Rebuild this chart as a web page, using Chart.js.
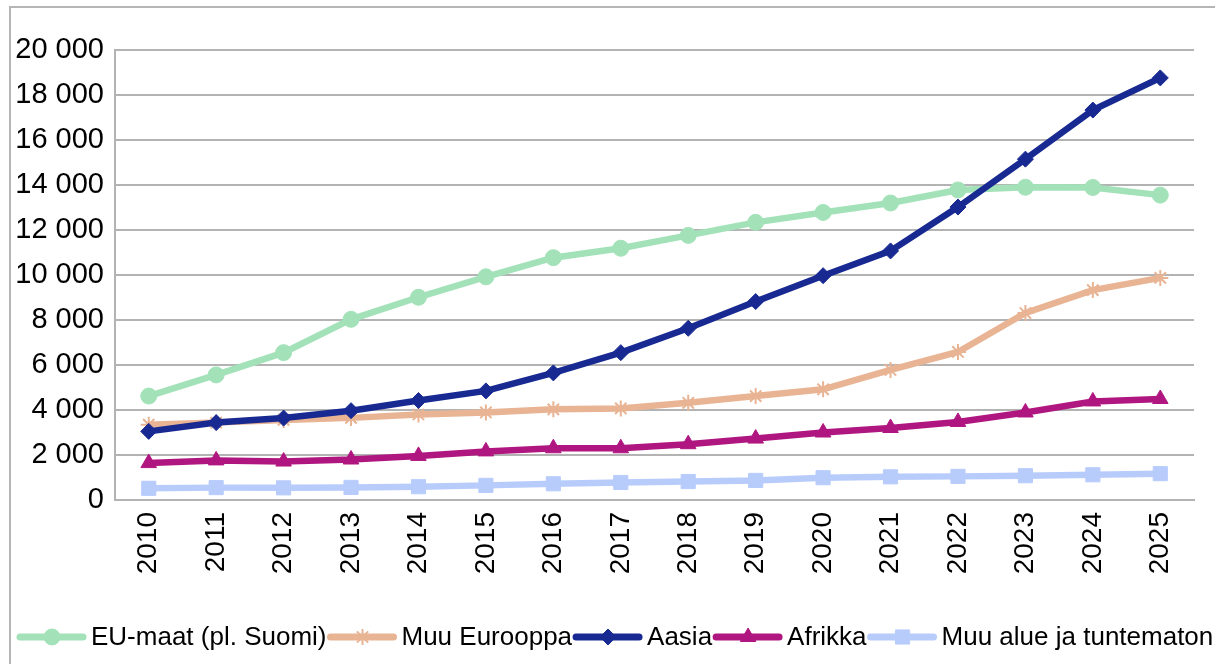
<!DOCTYPE html>
<html>
<head>
<meta charset="utf-8">
<script src="https://cdn.jsdelivr.net/npm/chart.js@4/dist/chart.umd.min.js"></script>
<style>
  body { margin: 0; background: #fff; overflow: hidden; }
  #frame { position: absolute; left: 9px; top: 6px; width: 1300px; height: 700px; border: 2px solid #b5b5b5; }
  #chart { position: absolute; left: 0; top: 0; }
</style>
</head>
<body>
<div id="frame"></div>
<canvas id="chart" width="1215" height="664"></canvas>
<script>
// Years on the x axis
const years = ['2010', '2011', '2012', '2013', '2014', '2015', '2016', '2017',
               '2018', '2019', '2020', '2021', '2022', '2023', '2024', '2025'];

// Series values
const euMaat = [4620, 5560, 6550, 8030, 9010, 9920, 10770, 11190, 11760, 12340, 12780, 13200, 13780, 13900, 13890, 13550];
const muuEurooppa = [3350, 3440, 3560, 3650, 3800, 3890, 4030, 4070, 4320, 4620, 4920, 5780, 6580, 8310, 9330, 9870];
const aasia = [3050, 3440, 3640, 3970, 4420, 4850, 5650, 6550, 7630, 8820, 9970, 11070, 13020, 15150, 17330, 18760];
const afrikka = [1640, 1760, 1710, 1800, 1960, 2160, 2300, 2300, 2480, 2730, 3000, 3200, 3470, 3890, 4380, 4490];
const muuAlue = [520, 550, 540, 560, 590, 650, 720, 780, 820, 870, 990, 1030, 1050, 1080, 1120, 1170];

// Y axis range
const yMin = 0;
const yMax = 20000;
const yStep = 2000;

const FONT = '"Liberation Sans", Arial, sans-serif';
const GRID = '#b3b3b3';

function series(label, data, color, pointStyle, radius, order) {
    return {
        label: label,
        data: data,
        borderColor: color,
        backgroundColor: color,
        borderWidth: 6.5,
        tension: 0,
        pointStyle: pointStyle,
        pointRadius: radius,
        pointHoverRadius: radius,
        pointBorderWidth: pointStyle === 'star' ? 2 : 1,
        pointBackgroundColor: color,
        pointBorderColor: color,
        order: order
    };
}

// Legend that shows a line segment with the marker on it, like the original
const lineLegend = {
    id: 'lineLegend',
    afterDraw(chart) {
        const ctx = chart.ctx;
        const y = 637;
        let x = 20;
        ctx.save();
        ctx.font = '26px ' + FONT;
        ctx.textBaseline = 'middle';
        chart.data.datasets.forEach(ds => {
            ctx.strokeStyle = ds.borderColor;
            ctx.lineWidth = 7;
            ctx.lineCap = 'round';
            ctx.beginPath();
            ctx.moveTo(x, y);
            ctx.lineTo(x + 63, y);
            ctx.stroke();
            ctx.fillStyle = ds.pointBackgroundColor;
            ctx.strokeStyle = ds.pointBorderColor;
            ctx.lineCap = 'butt';
            ctx.lineWidth = ds.pointBorderWidth;
            Chart.helpers.drawPoint(ctx, {
                pointStyle: ds.pointStyle,
                radius: ds.pointRadius,
                borderWidth: ds.pointBorderWidth,
                rotation: 0
            }, x + 32, y);
            ctx.fillStyle = '#000';
            ctx.fillText(ds.label, x + 71, y + 1);
            x += 71 + ctx.measureText(ds.label).width + 4;
        });
        ctx.restore();
    }
};

new Chart(document.getElementById('chart'), {
    type: 'line',
    data: {
        labels: years,
        datasets: [
            series('EU-maat (pl. Suomi)', euMaat, 'rgb(163, 226, 185)', 'circle', 8, 5),
            series('Muu Eurooppa', muuEurooppa, 'rgb(232, 180, 148)', 'star', 8, 4),
            series('Aasia', aasia, 'rgb(24, 42, 146)', 'rectRot', 8, 3),
            series('Afrikka', afrikka, 'rgb(176, 22, 128)', 'triangle', 9, 2),
            series('Muu alue ja tuntematon', muuAlue, 'rgb(184, 204, 252)', 'rect', 10, 1)
        ]
    },
    options: {
        responsive: false,
        devicePixelRatio: 1,
        animation: false,
        layout: { padding: { top: 50, right: 21, bottom: 80, left: 0 } },
        plugins: {
            legend: { display: false },
            tooltip: { enabled: false }
        },
        scales: {
            x: {
                offset: true,
                grid: {
                    offset: true,
                    drawTicks: false,
                    lineWidth: 2,
                    color: c => c.index === years.length ? GRID : 'rgba(0,0,0,0)'
                },
                border: { color: GRID, width: 2 },
                ticks: {
                    font: { family: FONT, size: 28 },
                    color: '#000',
                    padding: 12,
                    minRotation: 90,
                    maxRotation: 90,
                    autoSkip: false
                },
                afterFit: scale => { scale.height = 84; }
            },
            y: {
                min: yMin,
                max: yMax,
                grid: { drawTicks: false, lineWidth: 2, color: GRID },
                border: { color: GRID, width: 2 },
                ticks: {
                    stepSize: yStep,
                    font: { family: FONT, size: 29 },
                    color: '#000',
                    padding: 11,
                    callback: v => String(v).replace(/\B(?=(\d{3})+(?!\d))/g, ' ')
                },
                afterFit: scale => { scale.width = 115; }
            }
        }
    },
    plugins: [lineLegend]
});
</script>
</body>
</html>
